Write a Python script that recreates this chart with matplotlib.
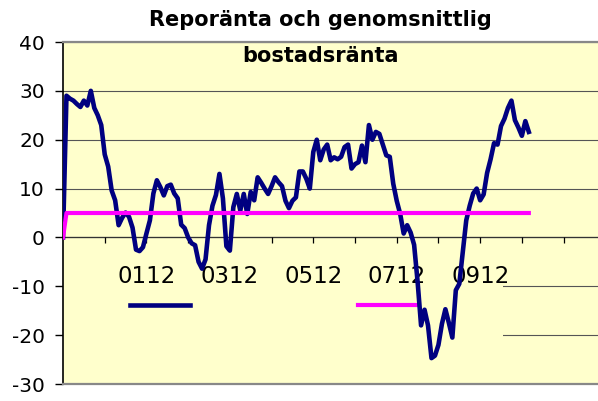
import numpy as np
import matplotlib
matplotlib.use("Agg")
import matplotlib.pyplot as plt
from matplotlib.patches import Rectangle
from matplotlib.lines import Line2D

# Blue series, one value per month starting at 9912
repo_values = [
    0, 29, 28.4, 28, 27.3, 26.7, 28, 27, 30, 26.5,
    25, 23, 17, 14.5, 9.6, 7.6, 2.5, 4, 5.1, 4.2,
    2, -2.5, -2.8, -2, 0.8, 3.5, 9, 11.7, 10.3, 8.6,
    10.5, 10.8, 9, 8, 2.6, 1.9, 0, -1.2, -1.6, -5,
    -6.4, -4.5, 2.5, 6.5, 8.7, 13, 8, -1.8, -2.7, 6.2,
    8.9, 5.5, 8.9, 4.8, 9.3, 7.6, 12.3, 11.2, 10, 8.9,
    10.5, 12.3, 11.3, 10.5, 7.5, 6, 7.5, 8.2, 13.5, 13.5,
    12, 10, 17.5, 20, 15.8, 18, 19, 15.8, 16.4, 16,
    16.5, 18.5, 19, 14.1, 15, 15.4, 18.8, 15.4, 23, 20,
    21.6, 21.2, 19, 16.8, 16.5, 11, 7.5, 4.8, 0.8, 2.5,
    1, -1.5, -9, -18, -14.8, -18, -24.7, -24.2, -22, -17.7,
    -14.7, -17.5, -20.5, -10.8, -9.5, -3, 3.5, 6.5, 9, 10,
    7.6, 8.8, 13.2, 16, 19.3, 19, 22.8, 24.3, 26.5, 28,
    24, 22.5, 20.8, 23.8, 21.6,
]
# Magenta series (flat line)
rate_months = [0, 1, 134]
rate_values = [0, 5, 5]

tick_months = [12, 24, 36, 48, 60, 72, 84, 96, 108, 120, 132, 144]
tick_labels = ['', '0112', '', '0312', '', '0512', '', '0712', '', '0912', '', '']
y_ticks = [-30, -20, -10, 0, 10, 20, 30, 40]

bg = '#FFFFCC'
navy = '#000080'
magenta = '#FF00FF'

fig = plt.figure(figsize=(5.98, 4.01), dpi=100)
ax = fig.add_axes([63 / 598, 17 / 401, 535 / 598, 342 / 401])
ax.set_facecolor(bg)

months = np.arange(len(repo_values))
ax.plot(months, repo_values, color=navy, lw=3.3, solid_joinstyle='round', zorder=3)
ax.plot(rate_months, rate_values, color=magenta, lw=3.0, zorder=4)

ax.set_xlim(0, 153.9)
ax.set_ylim(-30, 40)
ax.set_yticks(y_ticks)
ax.set_yticklabels([str(v) for v in y_ticks])
ax.set_xticks(tick_months)
ax.set_xticklabels(tick_labels)

ax.grid(axis='y', color='#555555', lw=0.8)
# grid under the legend area, x labels above it
ax.yaxis.set_zorder(0.5)
ax.xaxis.set_zorder(2.5)

# spines: zero axis, black left axis, grey plot-area border
ax.spines['bottom'].set_position(('data', 0))
ax.spines['bottom'].set_color('#333333')
ax.spines['bottom'].set_linewidth(0.9)
ax.spines['left'].set_color('black')
ax.spines['left'].set_linewidth(1.2)
ax.spines['top'].set_color('#888888')
ax.spines['top'].set_linewidth(1.6)
ax.spines['right'].set_visible(False)
ax.add_line(Line2D([0, 1], [0, 0], transform=ax.transAxes, color='#888888',
                   lw=1.6, clip_on=False, zorder=5))

ax.tick_params(axis='y', direction='out', length=6, width=1, pad=7, labelsize=14.5)
ax.tick_params(axis='x', direction='out', length=4.5, width=0.9, pad=15, labelsize=16.5)

# legend area hides the lower grid lines
ax.add_patch(Rectangle((0, 0.004), 0.822, 0.33, transform=ax.transAxes,
                       facecolor=bg, edgecolor='none', zorder=1))
handles = [Line2D([], [], color=navy, lw=3.3), Line2D([], [], color=magenta, lw=3.0)]
leg = ax.legend(handles, [' ', ' '], ncol=2, frameon=False, fontsize=12,
                loc='center left', bbox_to_anchor=(0.125, 0.228),
                borderaxespad=0, borderpad=0, handlelength=3.6,
                handletextpad=0.8, columnspacing=9.0)
leg.set_zorder(2)

fig.text(320 / 598, 0.975, 'Reporänta och genomsnittlig\nbostadsränta',
         ha='center', va='top', fontsize=15, fontweight='bold',
         linespacing=2.0)

fig.savefig('out.png', dpi=100)
